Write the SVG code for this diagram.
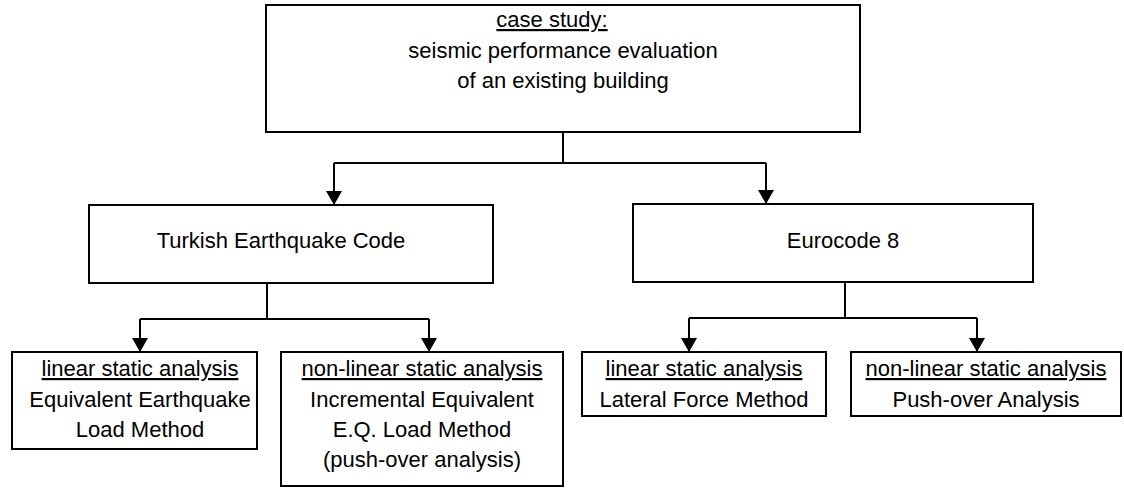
<svg xmlns="http://www.w3.org/2000/svg" width="1124" height="488" viewBox="0 0 1124 488">
<style>
.box{fill:#fff;stroke:#000;stroke-width:2}
.t{font-family:"Liberation Sans",Arial,sans-serif;font-size:22px;fill:#000;text-anchor:middle}
.u{text-decoration:underline}
.c{fill:none;stroke:#000;stroke-width:2}
</style>
<defs>
<marker id="ah" viewBox="0 0 14 16" refX="14" refY="8" markerWidth="14" markerHeight="16" markerUnits="userSpaceOnUse" orient="auto">
<path d="M0,0 L14,8 L0,16 z" fill="#000"/>
</marker>
</defs>
<g id="connectors">
<path class="c" d="M563,132 V163"/>
<path class="c" d="M334,163 H766"/>
<path class="c" d="M334,163 V205" marker-end="url(#ah)"/>
<path class="c" d="M766,163 V204" marker-end="url(#ah)"/>
<path class="c" d="M267,283 V319 M140,319 H429"/>
<path class="c" d="M140,319 V352" marker-end="url(#ah)"/>
<path class="c" d="M429,319 V352" marker-end="url(#ah)"/>
<path class="c" d="M845,282 V318 M689,318 H977"/>
<path class="c" d="M689,318 V352" marker-end="url(#ah)"/>
<path class="c" d="M977,318 V352" marker-end="url(#ah)"/>
</g>
<g id="case">
<rect class="box" x="266" y="5" width="594" height="127"/>
<text class="t u" x="552" y="27">case study:</text>
<text class="t" x="563" y="58">seismic performance evaluation</text>
<text class="t" x="563" y="88">of an existing building</text>
</g>
<g id="tec">
<rect class="box" x="89" y="205" width="404" height="78"/>
<text class="t" x="281" y="248">Turkish Earthquake Code</text>
</g>
<g id="ec8">
<rect class="box" x="633" y="204" width="400" height="78"/>
<text class="t" x="843" y="248">Eurocode 8</text>
</g>
<g id="tec-linear">
<rect class="box" x="12" y="352" width="245" height="97"/>
<text class="t u" x="140" y="376">linear static analysis</text>
<text class="t" x="140" y="407">Equivalent Earthquake</text>
<text class="t" x="140" y="437">Load Method</text>
</g>
<g id="tec-nonlinear">
<rect class="box" x="281" y="352" width="282" height="134"/>
<text class="t u" x="422" y="376">non-linear static analysis</text>
<text class="t" x="422" y="407">Incremental Equivalent</text>
<text class="t" x="422" y="437">E.Q. Load Method</text>
<text class="t" x="422" y="467">(push-over analysis)</text>
</g>
<g id="ec8-linear">
<rect class="box" x="582" y="352" width="244" height="64"/>
<text class="t u" x="704" y="376">linear static analysis</text>
<text class="t" x="704" y="407">Lateral Force Method</text>
</g>
<g id="ec8-nonlinear">
<rect class="box" x="851" y="352" width="270" height="64"/>
<text class="t u" x="986" y="376">non-linear static analysis</text>
<text class="t" x="986" y="407">Push-over Analysis</text>
</g>
</svg>
